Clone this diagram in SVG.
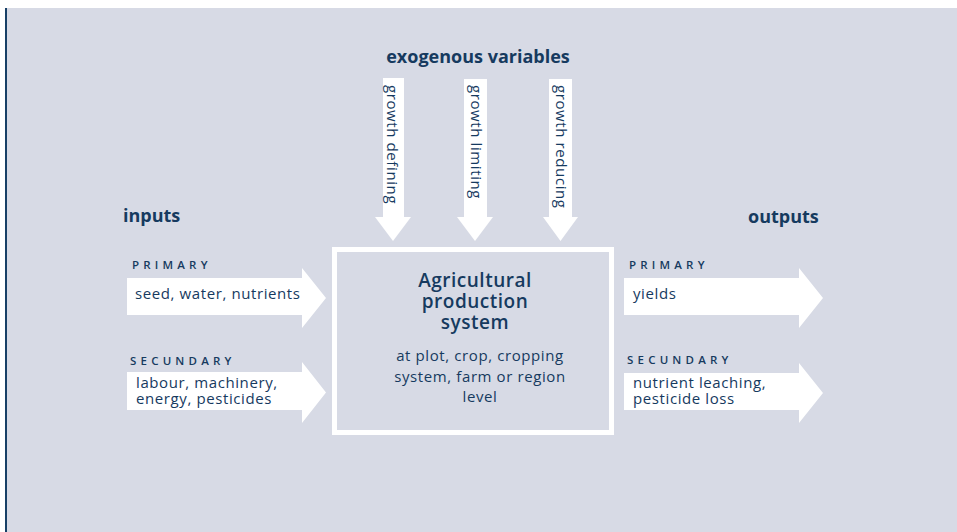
<svg xmlns="http://www.w3.org/2000/svg" width="957" height="532" viewBox="0 0 957 532">
<style>
  text { font-family: "Open Sans", "Noto Sans", "Liberation Sans", sans-serif; fill: #163a5f; }
  .head { font-size: 18px; font-weight: 700; }
  .title { font-size: 19px; font-weight: 600; letter-spacing: 0.5px; }
  .body { font-size: 15px; letter-spacing: 0.6px; }
  .cap { font-size: 11.5px; font-weight: 600; letter-spacing: 4.2px; }
  .arrow { fill: #ffffff; stroke: none; }
</style>
<rect x="0" y="0" width="957" height="532" fill="#ffffff"/>
<rect x="5" y="8" width="952" height="524" fill="#d7dae5"/>
<rect x="5" y="8" width="2" height="524" fill="#173f66"/>

<g id="connectors">
  <path class="arrow" d="M383,78 H404 V217 H411 L393,241 L375,217 H383 Z"/>
  <path class="arrow" d="M464,79 H487 V217 H493 L475,241 L457,217 H464 Z"/>
  <path class="arrow" d="M549,79 H572 V217 H578 L560.5,241 L543,217 H549 Z"/>
  <path class="arrow" d="M127,278 H302 V268 L326,298 L302,328 V315 H127 Z"/>
  <path class="arrow" d="M127,372 H302 V362 L326,392.5 L302,423 V410 H127 Z"/>
  <path class="arrow" d="M624,278 H799 V268 L823,298 L799,328 V315 H624 Z"/>
  <path class="arrow" d="M624,373 H799 V363 L823,393 L799,423 V410 H624 Z"/>
</g>

<g id="exogenous">
  <text class="head" x="478" y="63" text-anchor="middle">exogenous variables</text>
</g>
<g id="growth-defining">
  <text class="body" transform="translate(387,85) rotate(90)">growth defining</text>
</g>
<g id="growth-limiting">
  <text class="body" transform="translate(471,85) rotate(90)">growth limiting</text>
</g>
<g id="growth-reducing">
  <text class="body" transform="translate(556,85) rotate(90)">growth reducing</text>
</g>

<g id="inputs">
  <text class="head" x="123" y="222">inputs</text>
</g>
<g id="input-primary">
  <text class="cap" x="132" y="269">PRIMARY</text>
  <text class="body" x="135" y="299">seed, water, nutrients</text>
</g>
<g id="input-secundary">
  <text class="cap" x="130" y="365">SECUNDARY</text>
  <text class="body" x="136" y="388">labour, machinery,</text>
  <text class="body" x="136" y="404">energy, pesticides</text>
</g>

<g id="system">
  <rect x="334.5" y="249.5" width="277" height="183" fill="#d7dae5" stroke="#ffffff" stroke-width="5"/>
  <text class="title" x="475" y="287" text-anchor="middle">Agricultural</text>
  <text class="title" x="475" y="308" text-anchor="middle">production</text>
  <text class="title" x="475" y="329" text-anchor="middle">system</text>
  <text class="body" x="480" y="361" text-anchor="middle">at plot, crop, cropping</text>
  <text class="body" x="480" y="382" text-anchor="middle">system, farm or region</text>
  <text class="body" x="480" y="402" text-anchor="middle">level</text>
</g>

<g id="outputs">
  <text class="head" x="748" y="223">outputs</text>
</g>
<g id="output-primary">
  <text class="cap" x="629" y="269">PRIMARY</text>
  <text class="body" x="633" y="299">yields</text>
</g>
<g id="output-secundary">
  <text class="cap" x="627" y="364">SECUNDARY</text>
  <text class="body" x="633" y="388">nutrient leaching,</text>
  <text class="body" x="633" y="404">pesticide loss</text>
</g>
</svg>
